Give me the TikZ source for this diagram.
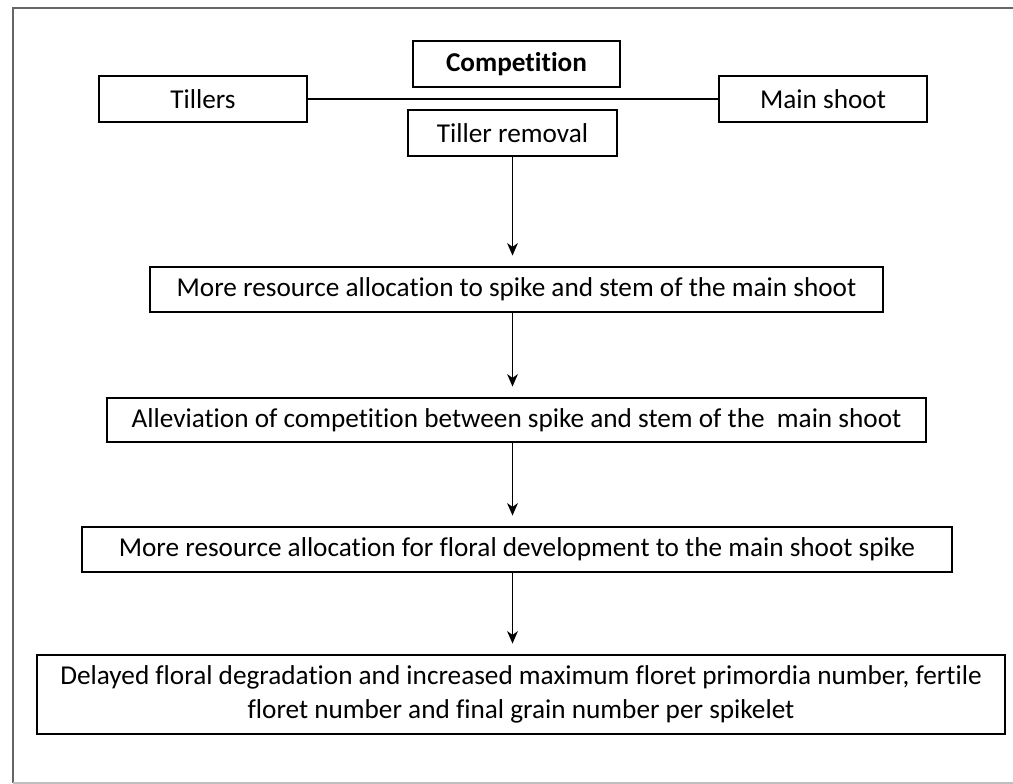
\documentclass[tikz,border=0pt]{standalone}
\usepackage{fontspec}
\setmainfont{Carlito}[Ligatures=NoCommon]
\usepackage{tikz}
\usetikzlibrary{arrows.meta, positioning}
\tikzset{
  flowbox/.style={draw, line width=1.6pt, inner sep=0pt, align=center,
                  minimum height=0.9cm},
  flowarrow/.style={-{Stealth[length=7pt, width=6pt, inset=2pt]},
                    line width=1pt, shorten >=0.2cm}
}

\begin{document}
\begin{tikzpicture}[font=\fontsize{15.5}{19}\selectfont]
  \useasboundingbox (0,0) rectangle (20.26,15.68);

  %% ─── Frame (open on the right) ─────────────────────────────────────────
  \draw[gray!80!black, line width=1.6pt] (20.26,15.52) -- (0.26,15.52) -- (0.26,0.02);
  \draw[gray!50, line width=1pt] (0.26,0.02) -- (20.26,0.02);

  %% ─── Top: competition ──────────────────────────────────────────────────
  \node[flowbox, minimum width=4.14cm, minimum height=0.92cm, font=\fontsize{15.5}{19}\selectfont\bfseries]
    (comp) at (10.33, 14.40) {Competition};
  \node[flowbox, minimum width=4.16cm, minimum height=0.92cm] (tillers) at (4.06, 13.70) {Tillers};
  \node[flowbox, minimum width=4.16cm, minimum height=0.92cm] (mainshoot) at (16.46, 13.70) {Main shoot};
  \node[flowbox, minimum width=4.18cm, minimum height=0.92cm] (removal) at (10.25, 13.02) {Tiller removal};
  \draw[line width=1.6pt] (tillers.east) -- (mainshoot.west);

  %% ─── Chain of effects ──────────────────────────────────────────────────
  \node[flowbox, minimum width=14.66cm] (alloc) at (10.33, 9.89)
    {More resource allocation to spike and stem of the main shoot};
  \node[flowbox, minimum width=16.38cm, minimum height=0.88cm] (allev) at (10.33, 7.28)
    {Alleviation of competition between spike and stem of the \ main shoot};
  \node[flowbox, minimum width=17.40cm] (floral) at (10.34, 4.69)
    {More resource allocation for floral development to the main shoot spike};
  \node[flowbox, minimum width=19.36cm, minimum height=1.58cm] (result) at (10.42, 1.79)
    {Delayed floral degradation and increased maximum floret primordia number, fertile\\
     floret number and final grain number per spikelet};

  \draw[flowarrow] (removal.south) -- (removal.south |- alloc.north);
  \draw[flowarrow] (removal.south |- alloc.south) -- (removal.south |- allev.north);
  \draw[flowarrow] (removal.south |- allev.south) -- (removal.south |- floral.north);
  \draw[flowarrow] (removal.south |- floral.south) -- (removal.south |- result.north);
\end{tikzpicture}
\end{document}
